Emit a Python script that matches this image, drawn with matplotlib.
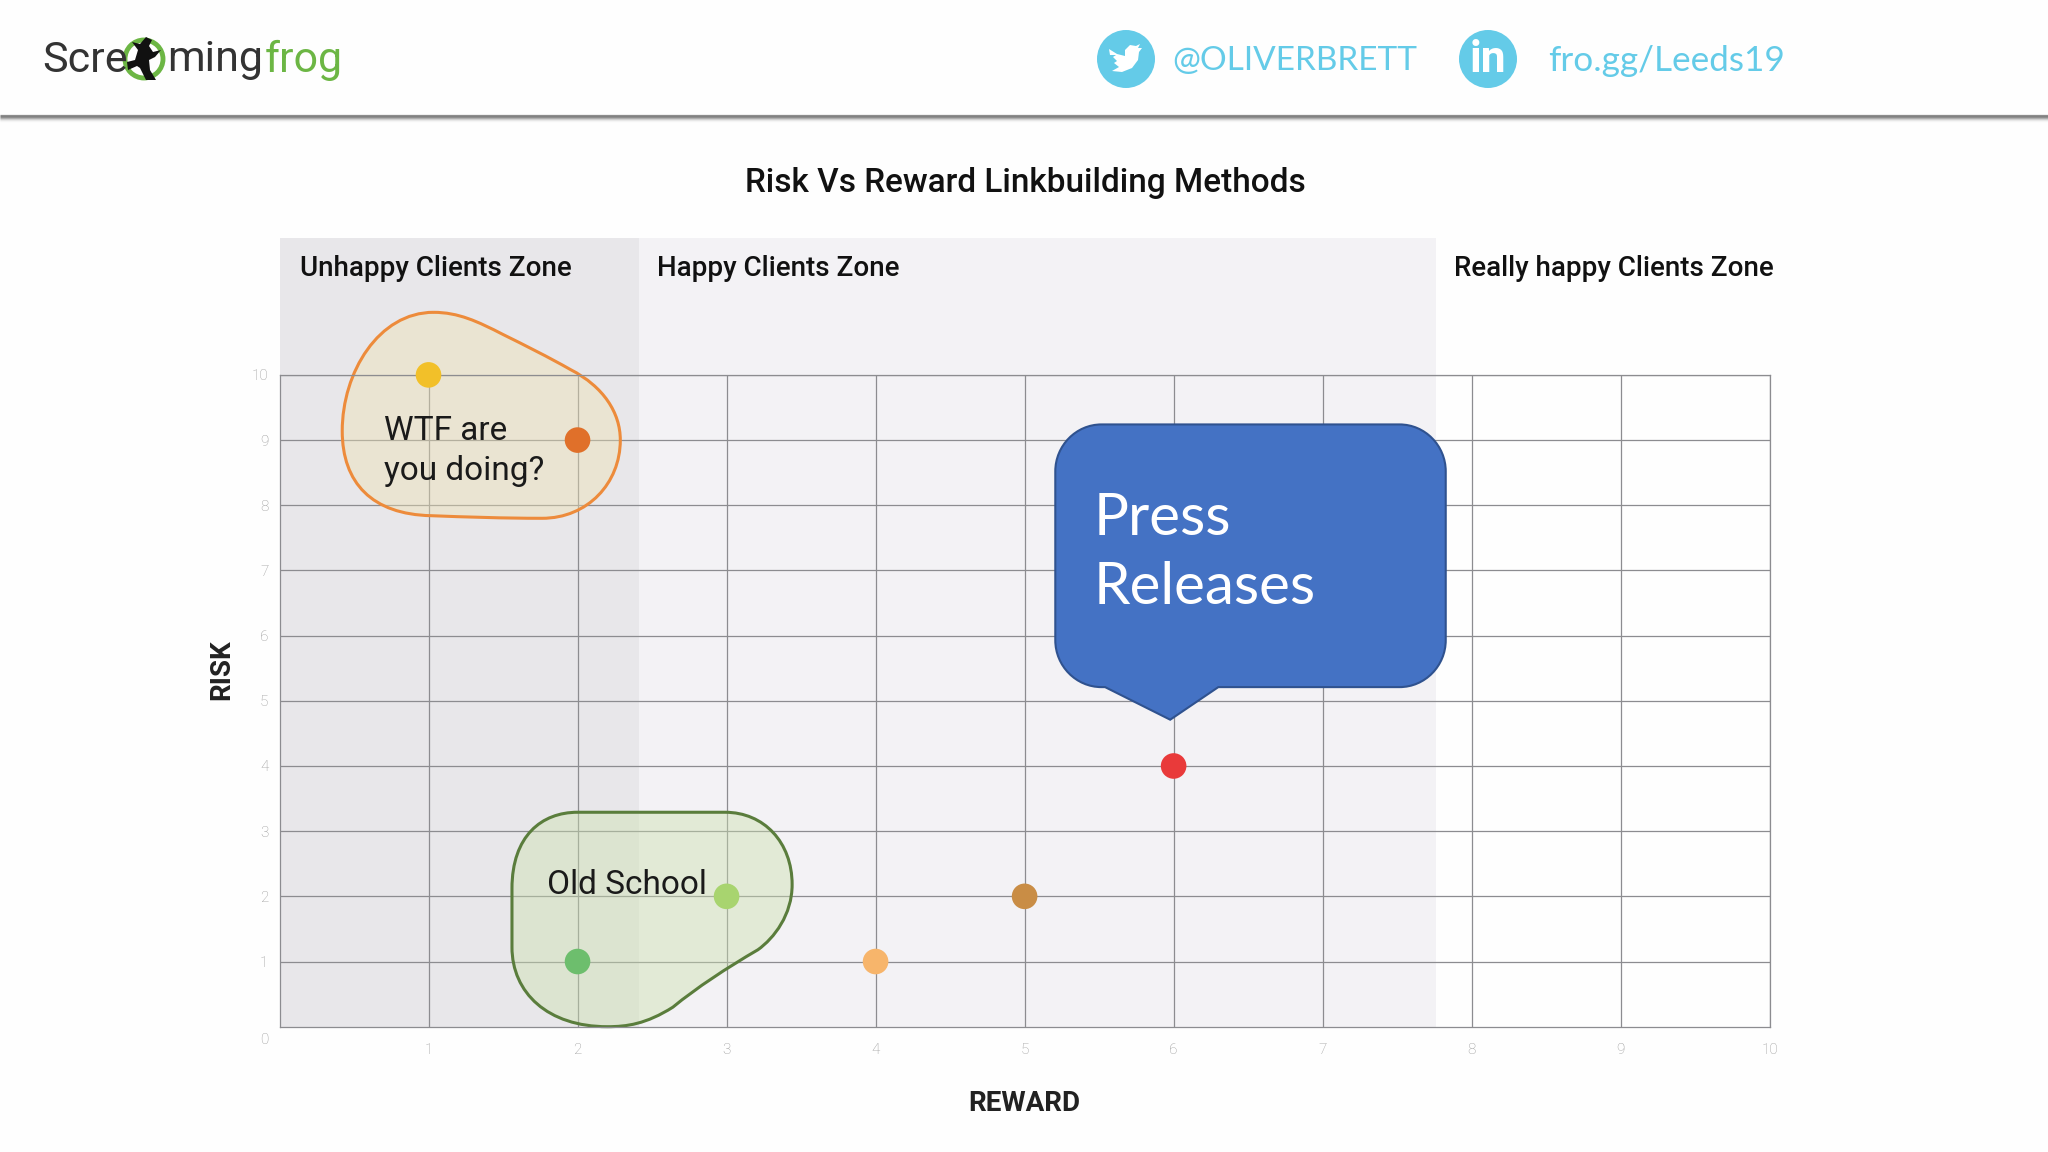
import matplotlib
matplotlib.use("Agg")
from matplotlib import pyplot as plt
from matplotlib.patches import Circle, PathPatch, Polygon, Rectangle
from matplotlib.path import Path

plt.rcParams['font.family'] = ['Roboto', 'DejaVu Sans']

W, H = 2048, 1152

# points on the chart
reward = [1, 2, 2, 3, 4, 5, 6]
risk = [10, 9, 1, 2, 1, 2, 4]
point_colors = ["#F2C029", "#E0702A", "#6DBE6D", "#A8D46F", "#F7B56B", "#C98D45", "#E93A3A"]

ticks = [1, 2, 3, 4, 5, 6, 7, 8, 9, 10]
tick_labels = ["1", "2", "3", "4", "5", "6", "7", "8", "9", "10"]

# zones, in reward units
unhappy_end = 2.41
happy_end = 7.76
zone_top = 12.1

# outlines in data units, Bezier segments
wtf_blob = [(1.034, 10.96), (1.20, 10.96), (1.33, 10.82), (1.50, 10.62),
            (1.65, 10.45), (1.80, 10.28), (1.954, 10.08),
            (2.174, 9.82), (2.287, 9.42), (2.287, 9.0),
            (2.287, 8.34), (2.068, 7.80), (1.762, 7.80),
            (1.5, 7.80), (1.25, 7.82), (1.017, 7.84),
            (0.622, 7.86), (0.421, 8.34), (0.421, 9.14),
            (0.421, 10.04), (0.666, 10.96), (1.034, 10.96)]
old_blob = [(2.0, 3.29), (2.3, 3.29), (2.7, 3.29), (2.99, 3.29), (3.25, 3.29),
            (3.44, 2.83), (3.44, 2.18), (3.44, 1.72), (3.32, 1.36), (3.21, 1.18),
            (3.0, 0.9), (2.8, 0.6), (2.64, 0.30), (2.46, 0.04), (2.33, 0.0),
            (2.2, 0.0), (1.8, 0.0), (1.56, 0.52), (1.56, 1.22), (1.56, 1.5),
            (1.56, 1.8), (1.56, 2.12), (1.56, 2.93), (1.76, 3.29), (2.0, 3.29)]

# speech bubble over the press release point
bx0, bx1, by0, by1 = 5.206, 7.826, 5.21, 9.24
rx, ry = 0.31, 0.72
tip = (5.977, 4.71)
tip_left, tip_right = 5.54, 6.30


def bezier(pts):
    codes = [Path.MOVETO] + [Path.CURVE4] * (len(pts) - 1)
    return Path(pts, codes)


fig = plt.figure(figsize=(W / 100, H / 100), dpi=100, facecolor="#FEFEFE")
ax = fig.add_axes([279.5 / W, 1 - 1026.7 / H, (1769.7 - 279.5) / W, (1026.7 - 374.9) / H])
ax.set_xlim(0, 10)
ax.set_ylim(0, 10)
ax.patch.set_alpha(0)

ax.add_patch(Rectangle((0, 0), unhappy_end, zone_top, fc="#E8E7EA", ec="none", clip_on=False, zorder=0))
ax.add_patch(Rectangle((unhappy_end, 0), happy_end - unhappy_end, zone_top, fc="#F3F2F5", ec="none", clip_on=False, zorder=0))

ax.set_xticks(ticks)
ax.set_xticklabels(tick_labels, fontsize=11, color="#9A9A9A", fontweight="light")
ax.set_yticks(ticks)
ax.set_yticklabels(tick_labels, fontsize=11, color="#9A9A9A", fontweight="light")
ax.tick_params(axis="x", length=0, pad=12)
ax.tick_params(axis="y", length=0, pad=8)
ax.grid(True, color="#8C8C90", lw=0.9, zorder=1)
ax.set_axisbelow(True)
for s in ax.spines.values():
    s.set_color("#8C8C90")
    s.set_linewidth(0.9)
ax.text(-0.1, -0.2, "0", fontsize=11, color="#9A9A9A", fontweight="light", ha="center", va="center")

ax.add_patch(PathPatch(bezier(wtf_blob), fc=(0.93, 0.88, 0.70, 0.42), ec="#ED8B3B", lw=2.2, clip_on=False, zorder=2))
ax.add_patch(PathPatch(bezier(old_blob), fc=(0.80, 0.88, 0.68, 0.42), ec="#5A7D3C", lw=2.2, clip_on=False, zorder=2))

ax.scatter(reward, risk, s=340, c=point_colors, linewidths=0, clip_on=False, zorder=3)

# bubble
k = 0.45
bubble = [(bx0 + rx, by1), (bx1 - rx, by1), (bx1 - rx * k, by1), (bx1, by1 - ry * k), (bx1, by1 - ry),
          (bx1, by0 + ry), (bx1, by0 + ry * k), (bx1 - rx * k, by0), (bx1 - rx, by0),
          (tip_right, by0), tip, (tip_left, by0), (bx0 + rx, by0),
          (bx0 + rx * k, by0), (bx0, by0 + ry * k), (bx0, by0 + ry),
          (bx0, by1 - ry), (bx0, by1 - ry * k), (bx0 + rx * k, by1), (bx0 + rx, by1)]
bubble_codes = [Path.MOVETO, Path.LINETO, Path.CURVE4, Path.CURVE4, Path.CURVE4,
                Path.LINETO, Path.CURVE4, Path.CURVE4, Path.CURVE4,
                Path.LINETO, Path.LINETO, Path.LINETO, Path.LINETO,
                Path.CURVE4, Path.CURVE4, Path.CURVE4,
                Path.LINETO, Path.CURVE4, Path.CURVE4, Path.CURVE4]
ax.add_patch(PathPatch(Path(bubble, bubble_codes), fc="#4472C4", ec="#2F528F", lw=1.5, clip_on=False, zorder=4))
ax.text(5.465, 7.27, "Press\nReleases", fontsize=42, color="white", family=["Lato", "DejaVu Sans"],
        linespacing=1.36, ha="left", va="center", zorder=5)

ax.text(0.70, 8.83, "WTF are\nyou doing?", fontsize=24, color="#1A1A1A", linespacing=1.3, ha="left", va="center", zorder=5)
ax.text(2.33, 2.18, "Old School", fontsize=24, color="#1A1A1A", ha="center", va="center", zorder=5)

ax.text(0.14, 11.64, "Unhappy Clients Zone", fontsize=20, fontweight="medium", color="#111111", va="center", clip_on=False)
ax.text(2.53, 11.64, "Happy Clients Zone", fontsize=20, fontweight="medium", color="#111111", va="center", clip_on=False)
ax.text(7.88, 11.64, "Really happy Clients Zone", fontsize=20, fontweight="medium", color="#111111", va="center", clip_on=False)

ax.text(5.0, -1.18, "REWARD", fontsize=20, fontweight="bold", color="#222222", ha="center", va="center")
ax.text(-0.39, 5.48, "RISK", fontsize=20, fontweight="bold", color="#222222", rotation=90, ha="center", va="center")

# header and logo on a pixel overlay
top = fig.add_axes([0, 0, 1, 1], zorder=10)
top.set_xlim(0, W)
top.set_ylim(H, 0)
top.axis("off")

shadow_rows = [(115, "#8E8E8E"), (116, "#808080"), (117, "#8C8C8C"), (118, "#ABABAB"), (119, "#CDCDCD"), (120, "#E6E6E6"), (121, "#F5F5F5")]
for y, c in shadow_rows:
    top.plot([0, W], [y, y], color=c, lw=0.9, solid_capstyle="butt")

top.text(W / 2 + 1, 183, "Risk Vs Reward Linkbuilding Methods", fontsize=24, fontweight="medium",
         color="#111111", ha="center", va="center")

top.text(42, 60, "Scre", fontsize=31, color="#333333", va="center")
top.text(167, 60, "ming", fontsize=31, color="#333333", va="center")
top.text(265, 60, "frog", fontsize=31, color="#6CB644", va="center")

top.add_patch(Circle((144, 59), 19, fc="none", ec="#6CB644", lw=3.5))
frog = [(146, 37), (152, 40), (149, 46), (153, 52), (161, 50), (155, 57), (149, 60), (150, 70), (156, 80),
        (146, 80), (140, 68), (137, 66), (128, 70), (127, 62), (135, 60), (138, 50), (132, 42), (140, 44)]
top.add_patch(Polygon(frog, closed=True, fc="#111111", ec="none"))

blue = "#64CBE8"
top.add_patch(Circle((1126, 59), 29, fc=blue, ec="none"))
top.add_patch(Circle((1488, 59), 29, fc=blue, ec="none"))
bird = [(1109, 49), (1117, 54), (1125, 56), (1125, 50), (1130, 45), (1136, 46), (1140, 44), (1138, 48),
        (1142, 48), (1139, 52), (1138, 60), (1132, 68), (1122, 72), (1112, 71), (1119, 67), (1114, 63),
        (1117, 61), (1113, 57), (1116, 55), (1110, 55)]
top.add_patch(Polygon(bird, closed=True, fc="white", ec="none"))
top.text(1488, 60, "in", fontsize=32, fontweight="bold", color="white", ha="center", va="center")

lato = ["Lato", "DejaVu Sans"]
top.text(1172, 61, "@OLIVERBRETT", fontsize=24, color=blue, family=lato, va="center")
top.text(1548, 61, "fro.gg/Leeds19", fontsize=25.3, color=blue, family=lato, va="center")

fig.savefig("out.png", dpi=100, facecolor=fig.get_facecolor())
